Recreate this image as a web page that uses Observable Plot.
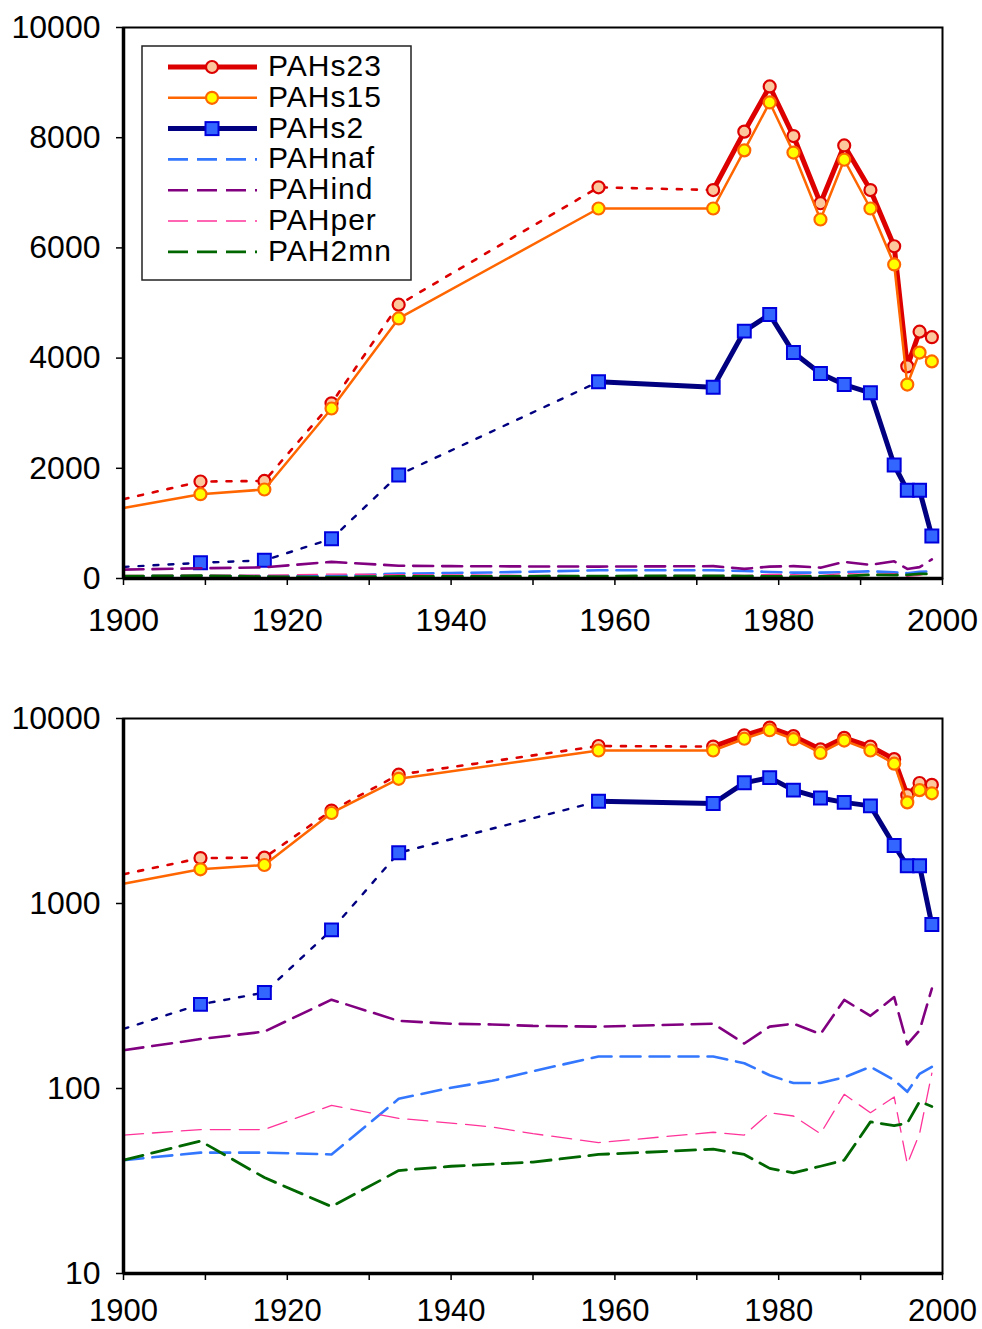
<!DOCTYPE html>
<html><head><meta charset="utf-8">
<script src="https://cdn.jsdelivr.net/npm/d3@7"></script>
<script src="https://cdn.jsdelivr.net/npm/@observablehq/plot@0.6"></script>
<style>
body{margin:0;background:#fff;}
#wrap{position:relative;width:982px;height:1329px;background:#fff;}
#wrap > svg{display:block;}
</style></head><body><div id="wrap"></div>
<script>
// ---------- data ----------
const years = [1900, 1909.4, 1917.2, 1925.4, 1933.6, 1940, 1945, 1950, 1958, 1972,
               1975.8, 1978.9, 1981.8, 1985.1, 1988, 1991.2, 1994.1, 1995.7, 1997.2, 1998.7];
const measured = [false, true, true, true, true, false, false, false, true, true,
                  true, true, true, true, true, true, true, true, true, true];
const PAHs23 = [1440, 1760, 1770, 3180, 4970, null, null, null, 7100, 7050,
                8110, 8930, 8030, 6810, 7860, 7050, 6030, 3850, 4480, 4380];
const PAHs15 = [1280, 1530, 1615, 3085, 4720, null, null, null, 6715, 6715,
                7770, 8640, 7730, 6515, 7600, 6715, 5700, 3520, 4100, 3940];
const PAHs2  = [210, 285, 330, 720, 1880, null, null, null, 3570, 3470,
                4490, 4790, 4100, 3720, 3520, 3370, 2060, 1600, 1600, 770];
const PAHnaf = [41, 45, 45, 44, 88, 101, 110, 124, 149, 149,
                137, 118, 107, 107, 115, 131, 111, 96, 120, 131];
const PAHind = [161, 185, 203, 302, 232, 224, 222, 218, 216, 224,
                175, 216, 224, 197, 301, 247, 312, 173, 206, 347];
const PAHper = [56, 60, 60, 81, 69, 65, 62, 57, 51, 58,
                56, 74, 71, 57, 93, 74, 90, 39, 57, 121];
const PAH2mn = [41, 52, 33, 23, 36, 38, 39, 40, 44, 47,
                44, 37, 35, 38, 41, 66, 63, 65, 85, 80];
const seriesNames = ["PAHs23", "PAHs15", "PAHs2", "PAHnaf", "PAHind", "PAHper", "PAH2mn"];
const solidFrom23 = 1972;
const solidFrom2 = 1958;
const xTicks = d3.range(1900, 2001, 10);
const linTicks = [0, 2000, 4000, 6000, 8000, 10000];
const logTicks = [10, 100, 1000, 10000];

// ---------- styles ----------
const FONT = "'Liberation Sans', Arial, Helvetica, sans-serif";
const C = {
  red: "#DD0000", peach: "#FCC79C", orange: "#FF6600", yellow: "#FFFF00",
  navy: "#000080", sqFill: "#3366FF", sqStroke: "#0000DD",
  naf: "#3377FF", ind: "#800080", per: "#FF3399", mn: "#006600"
};
const DOT = "5,10";
const DASH = "20,9";

function rows(vals) {
  return years.map((yr, i) => ({year: yr, v: vals[i], m: measured[i]})).filter(d => d.v != null);
}

function seriesMarks() {
  const m = [];
  const r23 = rows(PAHs23), r15 = rows(PAHs15), r2 = rows(PAHs2);
  m.push(Plot.line(r23.filter(d => d.year <= solidFrom23), {x: "year", y: "v", stroke: C.red, strokeWidth: 2.6, strokeDasharray: DOT}));
  m.push(Plot.line(r23.filter(d => d.year >= solidFrom23), {x: "year", y: "v", stroke: C.red, strokeWidth: 5, strokeLinejoin: "round"}));
  m.push(Plot.dot(r23.filter(d => d.m), {x: "year", y: "v", r: 6, fill: C.peach, stroke: C.red, strokeWidth: 2.2}));
  m.push(Plot.line(r15, {x: "year", y: "v", stroke: C.orange, strokeWidth: 2.5}));
  m.push(Plot.dot(r15.filter(d => d.m), {x: "year", y: "v", r: 6, fill: C.yellow, stroke: C.orange, strokeWidth: 2.2}));
  m.push(Plot.line(r2.filter(d => d.year <= solidFrom2), {x: "year", y: "v", stroke: C.navy, strokeWidth: 2.4, strokeDasharray: DOT}));
  m.push(Plot.line(r2.filter(d => d.year >= solidFrom2), {x: "year", y: "v", stroke: C.navy, strokeWidth: 5, strokeLinejoin: "round"}));
  m.push(Plot.dot(r2.filter(d => d.m), {x: "year", y: "v", r: 7.3, symbol: "square", fill: C.sqFill, stroke: C.sqStroke, strokeWidth: 2}));
  m.push(Plot.line(rows(PAHnaf), {x: "year", y: "v", stroke: C.naf, strokeWidth: 2.6, strokeDasharray: DASH}));
  m.push(Plot.line(rows(PAHind), {x: "year", y: "v", stroke: C.ind, strokeWidth: 2.6, strokeDasharray: DASH}));
  m.push(Plot.line(rows(PAHper), {x: "year", y: "v", stroke: C.per, strokeWidth: 1.3, strokeDasharray: DASH}));
  m.push(Plot.line(rows(PAH2mn), {x: "year", y: "v", stroke: C.mn, strokeWidth: 2.8, strokeDasharray: DASH}));
  return m;
}

function axes(yTicks, yMin, tickPadX, xFont) {
  return [
    Plot.frame({stroke: "black", strokeWidth: 2}),
    Plot.ruleX([1900], {stroke: "black", strokeWidth: 3.5}),
    Plot.ruleY([yMin], {stroke: "black", strokeWidth: 3.5}),
    Plot.axisX({ticks: xTicks, tickSize: 7, tickPadding: tickPadX, strokeWidth: 1.5,
      tickFormat: d => (d % 20 === 0 ? String(d) : ""), fontSize: xFont, label: null}),
    Plot.axisY({ticks: yTicks, tickSize: 7, tickPadding: 16, strokeWidth: 1.5,
      tickFormat: d => String(d), fontSize: 32, label: null})
  ];
}

const wrap = document.getElementById("wrap");

const topPlot = Plot.plot({
  width: 982, height: 660,
  marginTop: 27, marginLeft: 123, marginRight: 40, marginBottom: 82,
  style: {fontFamily: FONT, background: "white", color: "black", overflow: "visible"},
  x: {domain: [1900, 2000]},
  y: {domain: [0, 10000]},
  marks: [...seriesMarks(), ...axes(linTicks, 0, 23, 32)]
});
wrap.appendChild(topPlot);

const bottomPlot = Plot.plot({
  width: 982, height: 669,
  marginTop: 58, marginLeft: 123, marginRight: 40, marginBottom: 56,
  style: {fontFamily: FONT, background: "white", color: "black", overflow: "visible"},
  x: {domain: [1900, 2000]},
  y: {type: "log", domain: [10, 10000]},
  marks: [...seriesMarks(), ...axes(logTicks, 10, 18, 31)]
});
wrap.appendChild(bottomPlot);

// ---------- legend (top panel) ----------
const legendSpec = [
  {name: seriesNames[0], stroke: C.red, w: 5, dash: null, mk: "circle", fill: C.peach, mstroke: C.red},
  {name: seriesNames[1], stroke: C.orange, w: 2.5, dash: null, mk: "circle", fill: C.yellow, mstroke: C.orange},
  {name: seriesNames[2], stroke: C.navy, w: 5, dash: null, mk: "square", fill: C.sqFill, mstroke: C.sqStroke},
  {name: seriesNames[3], stroke: C.naf, w: 2.6, dash: DASH},
  {name: seriesNames[4], stroke: C.ind, w: 2.6, dash: DASH},
  {name: seriesNames[5], stroke: C.per, w: 1.3, dash: DASH},
  {name: seriesNames[6], stroke: C.mn, w: 2.8, dash: DASH}
];
const lg = d3.select(wrap).append("svg")
  .attr("width", 982).attr("height", 660)
  .style("position", "absolute").style("left", "0px").style("top", "0px")
  .style("pointer-events", "none");
lg.append("rect").attr("x", 142).attr("y", 46).attr("width", 269).attr("height", 234)
  .attr("fill", "white").attr("stroke", "#222").attr("stroke-width", 1.5);
legendSpec.forEach((s, i) => {
  const base = 76 + 30.8 * i;
  const ly = base - 9;
  const g = lg.append("g");
  g.append("line").attr("x1", 168).attr("x2", 257).attr("y1", ly).attr("y2", ly)
    .attr("stroke", s.stroke).attr("stroke-width", s.w)
    .attr("stroke-dasharray", s.dash);
  if (s.mk === "circle") {
    g.append("circle").attr("cx", 212).attr("cy", ly).attr("r", 6)
      .attr("fill", s.fill).attr("stroke", s.mstroke).attr("stroke-width", 2.2);
  } else if (s.mk === "square") {
    g.append("rect").attr("x", 212 - 6.5).attr("y", ly - 6.5).attr("width", 13).attr("height", 13)
      .attr("fill", s.fill).attr("stroke", s.mstroke).attr("stroke-width", 2);
  }
  g.append("text").attr("x", 268).attr("y", base).text(s.name)
    .attr("font-family", FONT).attr("font-size", 30).attr("letter-spacing", "1px").attr("fill", "black");
});
</script>
</body></html>
